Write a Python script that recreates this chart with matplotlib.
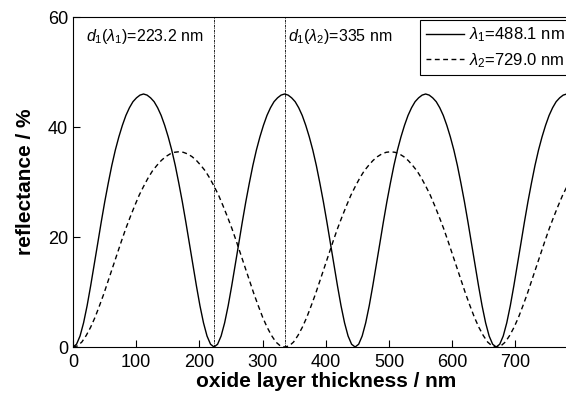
import numpy as np
import matplotlib
matplotlib.use('Agg')
import matplotlib.pyplot as plt

plt.rcParams['font.family'] = 'Liberation Sans'
plt.rcParams['mathtext.fontset'] = 'custom'
plt.rcParams['mathtext.rm'] = 'Liberation Sans'
plt.rcParams['mathtext.it'] = 'Liberation Sans:italic'

# reflectance (%) on an even thickness grid
# lambda1 = 488.1 nm: one sample every 223.2/40 nm, 0 .. 781.2 nm
refl_1 = [
  0, 0.5, 2.0, 4.4, 7.5, 11.1, 14.9, 18.8, 22.7, 26.4, 29.8, 33.0, 35.8, 38.2, 40.3, 42.1, 43.5, 44.6, 45.3, 45.8,
  46.0, 45.8, 45.3, 44.6, 43.5, 42.1, 40.3, 38.2, 35.8, 33.0, 29.8, 26.4, 22.7, 18.8, 14.9, 11.1, 7.5, 4.4, 2.0, 0.5,
  0, 0.5, 2.0, 4.4, 7.5, 11.1, 14.9, 18.8, 22.7, 26.4, 29.8, 33.0, 35.8, 38.2, 40.3, 42.1, 43.5, 44.6, 45.3, 45.8,
  46.0, 45.8, 45.3, 44.6, 43.5, 42.1, 40.3, 38.2, 35.8, 33.0, 29.8, 26.4, 22.7, 18.8, 14.9, 11.1, 7.5, 4.4, 2.0, 0.5,
  0, 0.5, 2.0, 4.4, 7.5, 11.1, 14.9, 18.8, 22.7, 26.4, 29.8, 33.0, 35.8, 38.2, 40.3, 42.1, 43.5, 44.6, 45.3, 45.8,
  46.0, 45.8, 45.3, 44.6, 43.5, 42.1, 40.3, 38.2, 35.8, 33.0, 29.8, 26.4, 22.7, 18.8, 14.9, 11.1, 7.5, 4.4, 2.0, 0.5,
  0, 0.5, 2.0, 4.4, 7.5, 11.1, 14.9, 18.8, 22.7, 26.4, 29.8, 33.0, 35.8, 38.2, 40.3, 42.1, 43.5, 44.6, 45.3, 45.8,
  46.0,
]
thick_1 = np.linspace(0, 781.2, len(refl_1))

# lambda2 = 729.0 nm: one sample every 335/48 nm, 0 .. 781.7 nm
refl_2 = [
  0, 0.2, 0.9, 2.1, 3.6, 5.4, 7.5, 9.7, 12.1, 14.5, 16.9, 19.3, 21.6, 23.7, 25.7, 27.6, 29.2, 30.7, 32.0, 33.0, 33.9, 34.6, 35.1, 35.4,
  35.5, 35.4, 35.1, 34.6, 33.9, 33.0, 32.0, 30.7, 29.2, 27.6, 25.7, 23.7, 21.6, 19.3, 16.9, 14.5, 12.1, 9.7, 7.5, 5.4, 3.6, 2.1, 0.9, 0.2,
  0, 0.2, 0.9, 2.1, 3.6, 5.4, 7.5, 9.7, 12.1, 14.5, 16.9, 19.3, 21.6, 23.7, 25.7, 27.6, 29.2, 30.7, 32.0, 33.0, 33.9, 34.6, 35.1, 35.4,
  35.5, 35.4, 35.1, 34.6, 33.9, 33.0, 32.0, 30.7, 29.2, 27.6, 25.7, 23.7, 21.6, 19.3, 16.9, 14.5, 12.1, 9.7, 7.5, 5.4, 3.6, 2.1, 0.9, 0.2,
  0, 0.2, 0.9, 2.1, 3.6, 5.4, 7.5, 9.7, 12.1, 14.5, 16.9, 19.3, 21.6, 23.7, 25.7, 27.6, 29.2,
]
thick_2 = np.linspace(0, 781.7, len(refl_2))

d_marks = [223.2, 335]
d_labels = [r'$d_1(\lambda_1)$=223.2 nm', r'$d_1(\lambda_2)$=335 nm']
legend_labels = [r'$\lambda_1$=488.1 nm', r'$\lambda_2$=729.0 nm']

fig = plt.figure(figsize=(5.66, 4.0), dpi=100)
ax = fig.add_axes([73 / 566, 53 / 400, (578.6 - 73) / 566, 330 / 400])

l1, = ax.plot(thick_1, refl_1, color='black', lw=1.0)
l2, = ax.plot(thick_2, refl_2, color='black', lw=1.0, dashes=(3.5, 2.5))

for d in d_marks:
  ax.axvline(d, color='black', lw=0.6, ls=(0, (3, 1, 1, 1)))

ax.text(21, 56.5, d_labels[0], fontsize=11.5, va='center', ha='left')
ax.text(340, 56.5, d_labels[1], fontsize=11.5, va='center', ha='left')

ax.set_xlim(0, 800)
ax.set_ylim(0, 60)
ax.set_xticks([0, 100, 200, 300, 400, 500, 600, 700])
ax.set_yticks([0, 20, 40, 60])
ax.tick_params(direction='in', length=5, labelsize=13, width=0.8)
ax.tick_params(axis='x', pad=5)
ax.set_xlabel('oxide layer thickness / nm', fontsize=15, fontweight='bold', labelpad=1)
ax.set_ylabel('reflectance / %', fontsize=15, fontweight='bold', labelpad=9)

leg = ax.legend([l1, l2], legend_labels, loc='upper left',
                bbox_to_anchor=(420 / 566, 1 - 20 / 400), bbox_transform=fig.transFigure,
                borderaxespad=0, fontsize=12, fancybox=False, edgecolor='black',
                framealpha=1, handlelength=2.3, handletextpad=0.3, labelspacing=0.4,
                borderpad=0.33)
leg.get_frame().set_linewidth(0.8)

plt.savefig('out.png', dpi=100)
